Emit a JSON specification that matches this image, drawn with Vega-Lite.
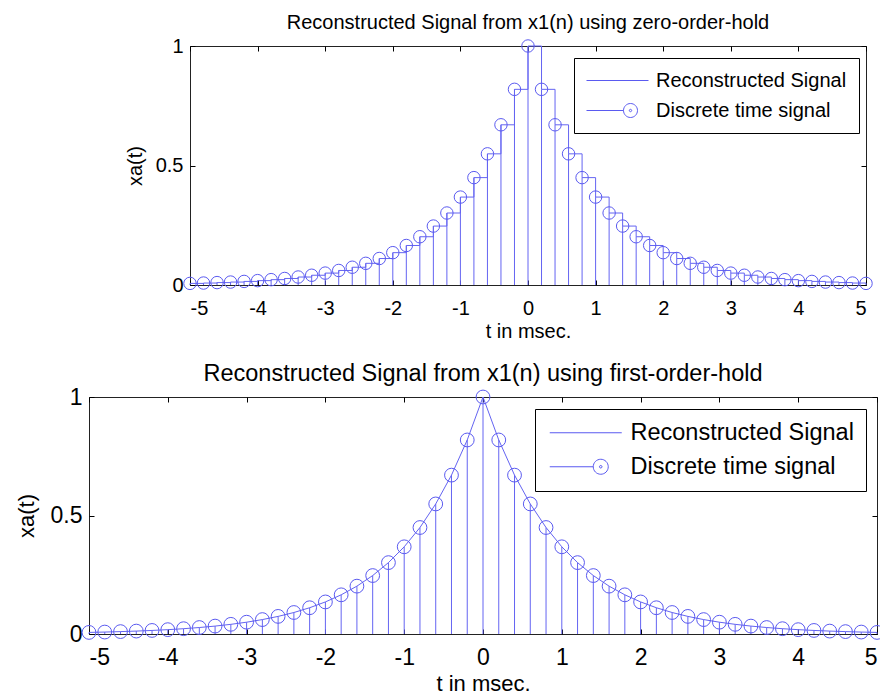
{
  "$schema": "https://vega.github.io/schema/vega-lite/v6.json",
  "padding": {"left": 14, "top": 12, "right": 0, "bottom": 0},
  "background": "white",
  "config": {
    "font": "Liberation Sans",
    "view": {"stroke": "#222", "strokeWidth": 1},
    "axis": {"grid": false, "domain": false, "tickColor": "#000", "labelColor": "#000", "titleColor": "#000", "titleFontWeight": "normal", "labelFont": "Liberation Sans", "titleFont": "Liberation Sans"},
    "title": {"font": "Liberation Sans", "fontWeight": "normal", "color": "#000"},
    "legend": {"labelFont": "Liberation Sans", "labelLimit": 0}
  },
  "datasets": {
    "sig": [
      {"t": -5, "v": 0.0067}, {"t": -4.8, "v": 0.0082}, {"t": -4.6, "v": 0.0101}, {"t": -4.4, "v": 0.0123}, {"t": -4.2, "v": 0.015},
      {"t": -4, "v": 0.0183}, {"t": -3.8, "v": 0.0224}, {"t": -3.6, "v": 0.0273}, {"t": -3.4, "v": 0.0334}, {"t": -3.2, "v": 0.0408},
      {"t": -3, "v": 0.0498}, {"t": -2.8, "v": 0.0608}, {"t": -2.6, "v": 0.0743}, {"t": -2.4, "v": 0.0907}, {"t": -2.2, "v": 0.1108},
      {"t": -2, "v": 0.1353}, {"t": -1.8, "v": 0.1653}, {"t": -1.6, "v": 0.2019}, {"t": -1.4, "v": 0.2466}, {"t": -1.2, "v": 0.3012},
      {"t": -1, "v": 0.3679}, {"t": -0.8, "v": 0.4493}, {"t": -0.6, "v": 0.5488}, {"t": -0.4, "v": 0.6703}, {"t": -0.2, "v": 0.8187},
      {"t": 0, "v": 1},
      {"t": 0.2, "v": 0.8187}, {"t": 0.4, "v": 0.6703}, {"t": 0.6, "v": 0.5488}, {"t": 0.8, "v": 0.4493}, {"t": 1, "v": 0.3679},
      {"t": 1.2, "v": 0.3012}, {"t": 1.4, "v": 0.2466}, {"t": 1.6, "v": 0.2019}, {"t": 1.8, "v": 0.1653}, {"t": 2, "v": 0.1353},
      {"t": 2.2, "v": 0.1108}, {"t": 2.4, "v": 0.0907}, {"t": 2.6, "v": 0.0743}, {"t": 2.8, "v": 0.0608}, {"t": 3, "v": 0.0498},
      {"t": 3.2, "v": 0.0408}, {"t": 3.4, "v": 0.0334}, {"t": 3.6, "v": 0.0273}, {"t": 3.8, "v": 0.0224}, {"t": 4, "v": 0.0183},
      {"t": 4.2, "v": 0.015}, {"t": 4.4, "v": 0.0123}, {"t": 4.6, "v": 0.0101}, {"t": 4.8, "v": 0.0082}, {"t": 5, "v": 0.0067}
    ],
    "legendrows": [
      {"series": "Reconstructed Signal"},
      {"series": "Discrete time signal"}
    ]
  },
  "spacing": 19,
  "resolve": {"scale": {"shape": "independent"}, "legend": {"shape": "independent"}},
  "vconcat": [
    {
      "spacing": 0,
      "resolve": {"scale": {"shape": "independent"}, "legend": {"shape": "independent"}},
      "hconcat": [
        {
          "width": 35, "height": 10,
          "view": {"stroke": null},
          "data": {"name": "legendrows"},
          "mark": {"type": "point", "opacity": 0},
          "encoding": {}
        },
        {
          "width": 676, "height": 239,
          "title": {"text": "Reconstructed Signal from x1(n) using zero-order-hold", "fontSize": 20, "offset": 3},
          "data": {"name": "sig"},
          "layer": [
            {
              "mark": {"type": "rule", "color": "#6464f2", "strokeWidth": 1},
              "encoding": {
                "x": {"field": "t", "type": "quantitative", "scale": {"domain": [-5, 5], "nice": false, "zero": false},
                  "axis": {"orient": "bottom", "values": [-5, -4, -3, -2, -1, 0, 1, 2, 3, 4, 5], "tickSize": -5, "labelPadding": 18, "labelFontSize": 20, "labelExpr": "datum.value < 0 ? '-' + abs(datum.value) : '' + datum.value", "title": "t in msec.", "titleFontSize": 20, "titlePadding": 3}},
                "y": {"field": "v", "type": "quantitative", "scale": {"domain": [0, 1], "nice": false},
                  "axis": {"orient": "left", "values": [0, 0.5, 1], "tickSize": -5, "labelPadding": 12, "labelFontSize": 20, "labelExpr": "'' + datum.value", "title": "xa(t)", "titleFontSize": 20, "titlePadding": 10}},
                "y2": {"datum": 0}
              }
            },
            {
              "mark": {"type": "line", "color": "#6464f2", "strokeWidth": 1, "interpolate": "step-after"},
              "encoding": {
                "x": {"field": "t", "type": "quantitative", "axis": {"orient": "top", "values": [-5, -4, -3, -2, -1, 0, 1, 2, 3, 4, 5], "tickSize": -5, "labels": false, "title": null}},
                "y": {"field": "v", "type": "quantitative", "axis": {"orient": "right", "values": [0, 0.5, 1], "tickSize": -5, "labels": false, "title": null}}
              }
            },
            {
              "mark": {"type": "point", "shape": "circle", "filled": false, "size": 155, "color": "#5a5af0", "strokeWidth": 1, "opacity": 1},
              "encoding": {
                "x": {"field": "t", "type": "quantitative", "axis": null},
                "y": {"field": "v", "type": "quantitative", "axis": null}
              }
            },
            {
              "data": {"name": "legendrows"},
              "mark": {"type": "point", "opacity": 0},
              "encoding": {
                "shape": {"field": "series", "type": "nominal",
                  "scale": {"domain": ["Reconstructed Signal", "Discrete time signal"], "range": ["M -3.1 0 L 3.1 0", "M -3.1 0 L 0.6 0 M 2 0 A 0.7 0.7 0 1 0 0.6 0 A 0.7 0.7 0 1 0 2 0 M 1.42 0 A 0.12 0.12 0 1 0 1.18 0 A 0.12 0.12 0 1 0 1.42 0"]},
                  "legend": {"orient": "none", "legendX": 384, "legendY": 12, "title": null, "strokeColor": "#000", "fillColor": "#fff", "padding": 12, "labelFontSize": 20, "labelColor": "#000", "labelLimit": 0, "symbolSize": 400, "symbolStrokeColor": "#5a5af0", "symbolFillColor": "transparent", "symbolStrokeWidth": 1, "symbolOpacity": 1, "symbolOffset": 21, "labelOffset": 28, "rowPadding": 9}
                }
              }
            }
          ],
          "resolve": {"axis": {"x": "independent", "y": "independent"}}
        }
      ]
    },
    {
      "width": 788, "height": 237,
      "title": {"text": "Reconstructed Signal from x1(n) using first-order-hold", "fontSize": 23.5, "offset": 1},
      "data": {"name": "sig"},
      "layer": [
        {
          "mark": {"type": "rule", "color": "#6464f2", "strokeWidth": 1},
          "encoding": {
            "x": {"field": "t", "type": "quantitative", "scale": {"domain": [-5, 5], "nice": false, "zero": false},
              "axis": {"orient": "bottom", "values": [-5, -4, -3, -2, -1, 0, 1, 2, 3, 4, 5], "tickSize": -5, "labelPadding": 17, "labelFontSize": 23, "labelExpr": "datum.value < 0 ? '-' + abs(datum.value) : '' + datum.value", "title": "t in msec.", "titleFontSize": 22, "titlePadding": 4}},
            "y": {"field": "v", "type": "quantitative", "scale": {"domain": [0, 1], "nice": false},
              "axis": {"orient": "left", "values": [0, 0.5, 1], "tickSize": -5, "labelPadding": 12, "labelFontSize": 23, "labelExpr": "'' + datum.value", "title": "xa(t)", "titleFontSize": 22, "titlePadding": 12}},
            "y2": {"datum": 0}
          }
        },
        {
          "mark": {"type": "line", "color": "#6464f2", "strokeWidth": 1},
          "encoding": {
            "x": {"field": "t", "type": "quantitative", "axis": {"orient": "top", "values": [-5, -4, -3, -2, -1, 0, 1, 2, 3, 4, 5], "tickSize": -5, "labels": false, "title": null}},
            "y": {"field": "v", "type": "quantitative", "axis": {"orient": "right", "values": [0, 0.5, 1], "tickSize": -5, "labels": false, "title": null}}
          }
        },
        {
          "mark": {"type": "point", "shape": "circle", "filled": false, "size": 190, "color": "#5a5af0", "strokeWidth": 1, "opacity": 1},
          "encoding": {
            "x": {"field": "t", "type": "quantitative", "axis": null},
            "y": {"field": "v", "type": "quantitative", "axis": null}
          }
        },
        {
          "data": {"name": "legendrows"},
          "mark": {"type": "point", "opacity": 0},
          "encoding": {
            "shape": {"field": "series", "type": "nominal",
              "scale": {"domain": ["Reconstructed Signal", "Discrete time signal"], "range": ["M -3.6 0 L 3.6 0", "M -3.6 0 L 0.75 0 M 2.25 0 A 0.75 0.75 0 1 0 0.75 0 A 0.75 0.75 0 1 0 2.25 0 M 1.63 0 A 0.13 0.13 0 1 0 1.37 0 A 0.13 0.13 0 1 0 1.63 0"]},
              "legend": {"orient": "none", "legendX": 446, "legendY": 12, "title": null, "strokeColor": "#000", "fillColor": "#fff", "padding": 12, "labelFontSize": 23.5, "labelColor": "#000", "labelLimit": 0, "symbolSize": 400, "symbolStrokeColor": "#5a5af0", "symbolFillColor": "transparent", "symbolStrokeWidth": 1, "symbolOpacity": 1, "symbolOffset": 27, "labelOffset": 33, "rowPadding": 9}
            }
          }
        }
      ],
      "resolve": {"axis": {"x": "independent", "y": "independent"}}
    }
  ]
}
